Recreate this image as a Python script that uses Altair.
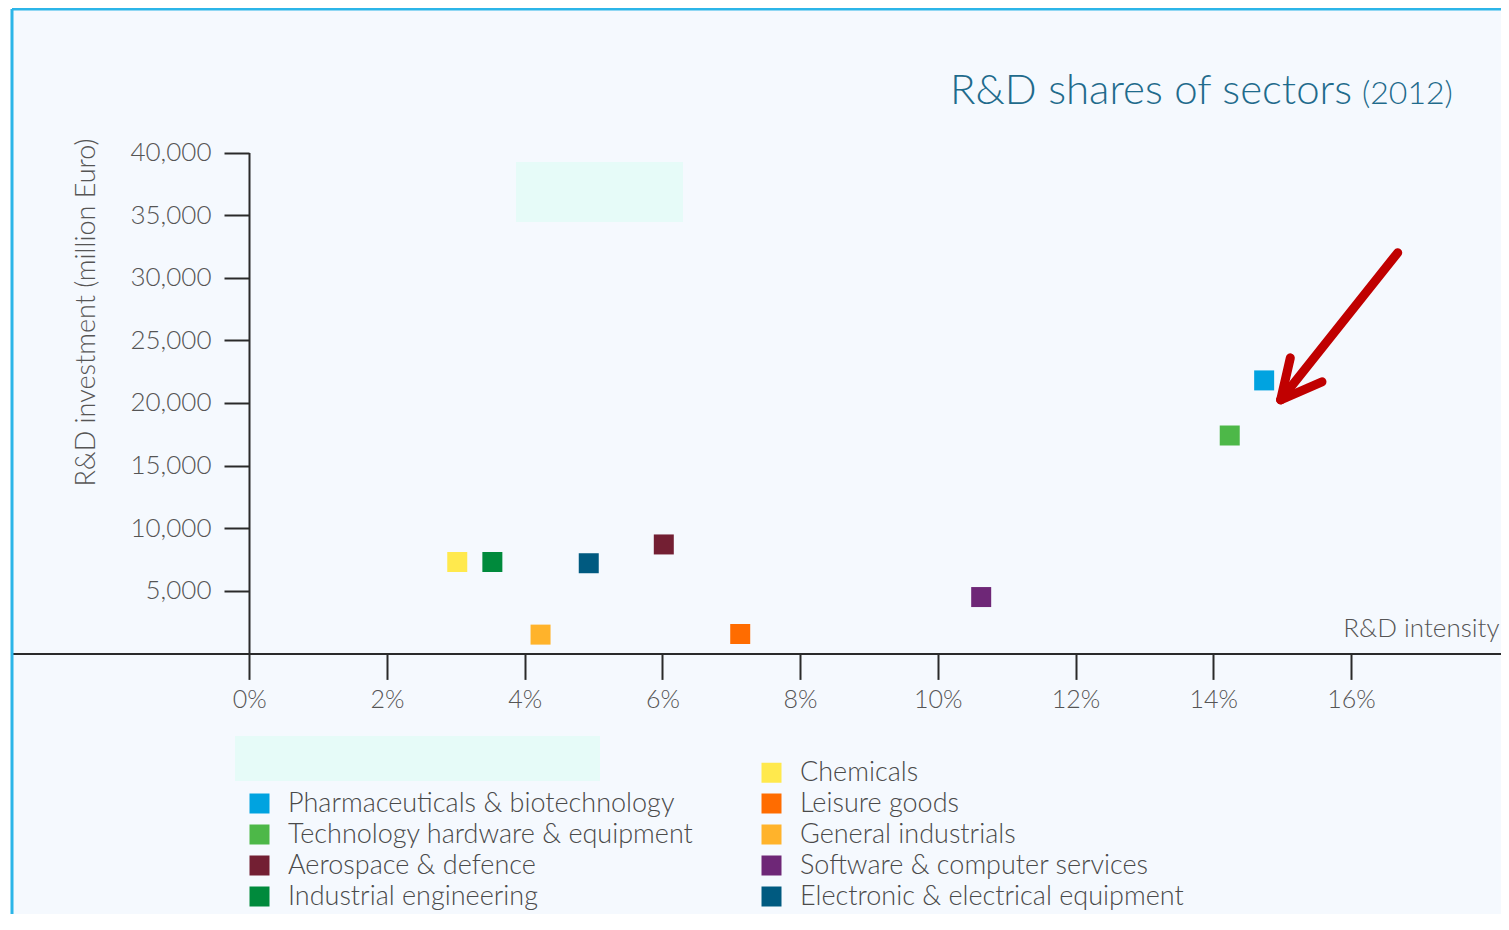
import altair as alt
import pandas as pd

# ---------------- data ----------------
sectors = [
    "Pharmaceuticals & biotechnology",
    "Technology hardware & equipment",
    "Aerospace & defence",
    "Industrial engineering",
    "Chemicals",
    "Leisure goods",
    "General industrials",
    "Software & computer services",
    "Electronic & electrical equipment",
]
intensity = [14.74, 14.24, 6.02, 3.53, 3.02, 7.13, 4.23, 10.63, 4.93]      # % R&D intensity
investment = [21800, 17400, 8700, 7300, 7300, 1550, 1500, 4500, 7200]    # million Euro
sector_colors = {
    "Pharmaceuticals & biotechnology": "#00a3e0",
    "Technology hardware & equipment": "#4db848",
    "Aerospace & defence": "#731f33",
    "Industrial engineering": "#008a3c",
    "Chemicals": "#ffe94d",
    "Leisure goods": "#ff6c00",
    "General industrials": "#ffb32b",
    "Software & computer services": "#6e2777",
    "Electronic & electrical equipment": "#005a80",
}
# legend fills column by column (5 rows); the first cell of the left column is empty
legend_order = [
    " ",
    "Pharmaceuticals & biotechnology",
    "Technology hardware & equipment",
    "Aerospace & defence",
    "Industrial engineering",
    "Chemicals",
    "Leisure goods",
    "General industrials",
    "Software & computer services",
    "Electronic & electrical equipment",
]
legend_colors = ["transparent" if s == " " else sector_colors[s] for s in legend_order]

x_ticks = [0, 2, 4, 6, 8, 10, 12, 14, 16]
y_ticks = [5000, 10000, 15000, 20000, 25000, 30000, 35000, 40000]

TITLE = "R&D shares of sectors"
TITLE_YEAR = "(2012)"
X_TITLE = "R&D intensity"
Y_TITLE = "R&D investment (million Euro)"

df = pd.DataFrame({"sector": sectors, "intensity": intensity, "investment": investment})
one = pd.DataFrame({"k": [0]})

# ---------------- layout ----------------
W, H = 1489, 905
FONT = "Lato"
GREY = "#555555"
AXIS_DARK = "#2a2a2a"

x_scale = alt.Scale(domain=[-3.447, 18.180], nice=False, zero=False)
y_scale = alt.Scale(domain=[0, 40000], range=[644.4, 143.5], nice=False, zero=False)

points = alt.Chart(df).mark_point(
    shape="square", filled=True, size=400, opacity=1, strokeWidth=0
).encode(
    x=alt.X(
        "intensity:Q",
        scale=x_scale,
        axis=alt.Axis(
            values=x_ticks,
            labelExpr="datum.value + '%'",
            offset=-260.6,
            tickSize=26,
            labelPadding=8,
            labelFontSize=25,
            labelFlush=False,
            labelOverlap=False,
            grid=False,
            title=X_TITLE,
            titleX=1487,
            titleY=-17,
            titleAlign="right",
            titleBaseline="alphabetic",
            titleFontSize=26,
        ),
    ),
    y=alt.Y(
        "investment:Q",
        scale=y_scale,
        axis=alt.Axis(
            values=y_ticks,
            format=",d",
            offset=-237,
            tickSize=25,
            labelPadding=13,
            labelFontSize=26,
            labelOverlap=False,
            grid=False,
            title=Y_TITLE,
            titleAngle=270,
            titleX=-163,
            titleY=303,
            titleAlign="center",
            titleBaseline="middle",
            titleFontSize=27,
        ),
    ),
    color=alt.Color(
        "sector:N",
        scale=alt.Scale(domain=legend_order, range=legend_colors),
        title=None,
        legend=alt.Legend(
            orient="none",
            legendX=234,
            legendY=750,
            columns=2,
            columnPadding=64,
            rowPadding=3,
            padding=0,
            symbolType="square",
            symbolSize=400,
            symbolStrokeWidth=0,
            symbolOpacity=1,
            labelFont=FONT,
            labelFontWeight=300,
            labelFontSize=27,
            labelColor="#4a4a4a",
            labelOffset=15,
            labelLimit=700,
        ),
    ),
)

# faint mint panels present in the original
mint_top = alt.Chart(one).mark_rect(color="#e6fbf8").encode(
    x=alt.value(504), x2=alt.value(671), y=alt.value(153), y2=alt.value(213)
)
mint_bottom = alt.Chart(one).mark_rect(color="#e6fbf8").encode(
    x=alt.value(223), x2=alt.value(588), y=alt.value(727), y2=alt.value(772)
)

# frame (left and top edges)
frame_left = alt.Chart(one).mark_rule(color="#2cb5e8", strokeWidth=3).encode(
    x=alt.value(0), y=alt.value(0), y2=alt.value(H)
)
frame_top = alt.Chart(one).mark_rule(color="#2cb5e8", strokeWidth=3).encode(
    x=alt.value(0), x2=alt.value(W), y=alt.value(0)
)

# red arrow pointing at the pharmaceuticals point
ARROW = "#c00000"
def arrow_rule(xa, ya, xb, yb):
    return alt.Chart(one).mark_rule(color=ARROW, strokeWidth=9, strokeCap="round").encode(
        x=alt.datum(xa), y=alt.datum(ya), x2=alt.datum(xb), y2=alt.datum(yb)
    )

shaft = arrow_rule(16.68, 32000, 14.98, 20250)
barb1 = arrow_rule(14.98, 20250, 15.12, 23600)
barb2 = arrow_rule(14.98, 20250, 15.58, 21690)

title_main = alt.Chart(one).mark_text(
    text=TITLE, font=FONT, fontWeight=300, fontSize=42, color="#1f6b8c",
    align="left", baseline="alphabetic",
).encode(x=alt.value(938), y=alt.value(95))
title_year = alt.Chart(one).mark_text(
    text=TITLE_YEAR, font=FONT, fontWeight=300, fontSize=32, color="#1f6b8c",
    align="left", baseline="alphabetic",
).encode(x=alt.value(1350), y=alt.value(95))

chart = alt.layer(
    mint_top, mint_bottom, frame_left, frame_top,
    points, shaft, barb1, barb2, title_main, title_year,
).properties(
    width=W,
    height=H,
    autosize=alt.AutoSizeParams(type="none"),
    padding={"left": 4, "top": 1, "right": 0, "bottom": 0},
    background="white",
).configure_view(
    fill="#f5f9fe", stroke="transparent"
).configure_axis(
    labelFont=FONT,
    labelFontWeight=300,
    labelColor=GREY,
    titleFont=FONT,
    titleFontWeight=300,
    titleColor=GREY,
    domainColor=AXIS_DARK,
    tickColor=AXIS_DARK,
    domainWidth=2,
    tickWidth=2,
)

chart.save("out.html", embed_options={"renderer": "svg", "actions": False})
